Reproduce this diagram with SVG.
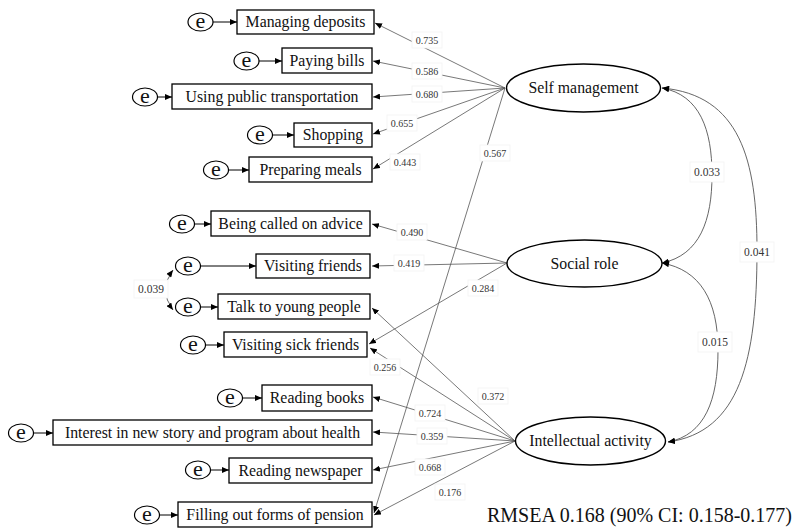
<svg xmlns="http://www.w3.org/2000/svg" width="792" height="531" viewBox="0 0 792 531" font-family="Liberation Serif, Times New Roman, serif">
<style>
.box{fill:#fff;stroke:#000;stroke-width:1.3}
.err{fill:#fff;stroke:#000;stroke-width:1.2}
.lat{fill:#fff;stroke:#000;stroke-width:1.4}
.t{font-size:15.8px;fill:#111;text-anchor:middle}
.e{font-size:22px;fill:#111;text-anchor:middle}
.ea{stroke:#000;stroke-width:1;fill:none;marker-end:url(#ah)}
.ld{stroke:#555;stroke-width:0.8;fill:none;marker-end:url(#ah)}
.cv{stroke:#555;stroke-width:0.9;fill:none;marker-start:url(#ahs);marker-end:url(#ah)}
.lb{fill:#fff;stroke:#f2f2f2;stroke-width:0.8}
.n{font-size:10px;fill:#333;text-anchor:middle}
.nb{font-size:11.5px;fill:#333;text-anchor:middle}
</style>
<defs>
<marker id="ah" markerUnits="userSpaceOnUse" markerWidth="8" markerHeight="6" refX="7" refY="3" orient="auto"><path d="M0,0 L7,3 L0,6 z" fill="#000"/></marker>
<marker id="ahs" markerUnits="userSpaceOnUse" markerWidth="8" markerHeight="6" refX="0" refY="3" orient="auto"><path d="M7,0 L0,3 L7,6 z" fill="#000"/></marker>
</defs>

<g id="connectors">
<line class="ld" x1="505" y1="88" x2="375" y2="23"/>
<line class="ld" x1="505" y1="88" x2="373" y2="61"/>
<line class="ld" x1="505" y1="88" x2="373" y2="97"/>
<line class="ld" x1="505" y1="88" x2="373" y2="134"/>
<line class="ld" x1="505" y1="88" x2="373" y2="169"/>
<line class="ld" x1="505" y1="88" x2="374" y2="513"/>
<line class="ld" x1="507" y1="263" x2="372" y2="224"/>
<line class="ld" x1="507" y1="263" x2="372" y2="266"/>
<line class="ld" x1="507" y1="263" x2="369" y2="344"/>
<line class="ld" x1="515" y1="441" x2="372" y2="308"/>
<line class="ld" x1="515" y1="441" x2="370" y2="348"/>
<line class="ld" x1="515" y1="441" x2="373" y2="397"/>
<line class="ld" x1="515" y1="441" x2="373" y2="432"/>
<line class="ld" x1="515" y1="441" x2="373" y2="470"/>
<line class="ld" x1="515" y1="441" x2="374" y2="515"/>
<path class="cv" d="M662,88 C700,95 712,130 712,175 C712,220 700,255 662,263"/>
<path class="cv" d="M662,88 C740,95 757,160 757,250 C757,360 740,432 668,442"/>
<path class="cv" d="M662,263 C700,270 718,300 718,350 C718,400 705,435 668,442"/>
<path class="cv" d="M173,270 Q158,290 173,310"/>
<line class="ea" x1="213" y1="22" x2="237" y2="22"/>
<line class="ea" x1="259" y1="61" x2="282" y2="61"/>
<line class="ea" x1="157.5" y1="97" x2="172" y2="97"/>
<line class="ea" x1="272.5" y1="135" x2="294" y2="135"/>
<line class="ea" x1="228.5" y1="170" x2="249" y2="170"/>
<line class="ea" x1="194.5" y1="224" x2="211" y2="224"/>
<line class="ea" x1="200.5" y1="266" x2="256" y2="266"/>
<line class="ea" x1="200.5" y1="307" x2="218" y2="307"/>
<line class="ea" x1="205.5" y1="345" x2="224" y2="345"/>
<line class="ea" x1="242.5" y1="398" x2="262" y2="398"/>
<line class="ea" x1="33.5" y1="433" x2="53" y2="433"/>
<line class="ea" x1="210.5" y1="470" x2="229" y2="470"/>
<line class="ea" x1="159.5" y1="515" x2="178" y2="515"/>
</g>

<g id="labels">
<rect class="lb" x="412" y="32" width="30" height="16"/><text class="n" x="427" y="43.5">0.735</text>
<rect class="lb" x="412" y="63" width="30" height="16"/><text class="n" x="427" y="74.5">0.586</text>
<rect class="lb" x="412" y="86" width="30" height="16"/><text class="n" x="427" y="97.5">0.680</text>
<rect class="lb" x="387" y="115" width="30" height="16"/><text class="n" x="402" y="126.5">0.655</text>
<rect class="lb" x="390" y="154" width="30" height="16"/><text class="n" x="405" y="165.5">0.443</text>
<rect class="lb" x="480" y="145" width="30" height="16"/><text class="n" x="495" y="156.5">0.567</text>
<rect class="lb" x="397" y="224" width="30" height="16"/><text class="n" x="412" y="235.5">0.490</text>
<rect class="lb" x="394" y="255" width="30" height="16"/><text class="n" x="409" y="266.5">0.419</text>
<rect class="lb" x="468" y="280" width="30" height="16"/><text class="n" x="483" y="291.5">0.284</text>
<rect class="lb" x="370" y="359" width="30" height="16"/><text class="n" x="385" y="370.5">0.256</text>
<rect class="lb" x="478" y="388" width="30" height="16"/><text class="n" x="493" y="399.5">0.372</text>
<rect class="lb" x="415" y="405" width="30" height="16"/><text class="n" x="430" y="416.5">0.724</text>
<rect class="lb" x="417" y="428" width="30" height="16"/><text class="n" x="432" y="439.5">0.359</text>
<rect class="lb" x="415" y="459" width="30" height="16"/><text class="n" x="430" y="470.5">0.668</text>
<rect class="lb" x="435" y="484" width="30" height="16"/><text class="n" x="450" y="495.5">0.176</text>
<rect class="lb" x="690" y="162" width="34" height="20"/><text class="nb" x="707" y="176">0.033</text>
<rect class="lb" x="740" y="242" width="34" height="20"/><text class="nb" x="757" y="256">0.041</text>
<rect class="lb" x="698" y="332" width="34" height="20"/><text class="nb" x="715" y="346">0.015</text>
<rect class="lb" x="134" y="280" width="34" height="18"/><text class="nb" x="151" y="293">0.039</text>
</g>

<g id="n1"><rect class="box" x="237" y="10" width="137" height="24"/><text class="t" x="305.5" y="27">Managing deposits</text><ellipse class="err" cx="200.5" cy="22" rx="12.5" ry="9"/><text class="e" x="200.5" y="27.5">e</text></g>
<g id="n2"><rect class="box" x="282" y="48" width="90" height="25"/><text class="t" x="327" y="66">Paying bills</text><ellipse class="err" cx="246.5" cy="61" rx="12.5" ry="9"/><text class="e" x="246.5" y="66.5">e</text></g>
<g id="n3"><rect class="box" x="172" y="84" width="200" height="25"/><text class="t" x="272" y="102">Using public transportation</text><ellipse class="err" cx="145" cy="97" rx="12.5" ry="9"/><text class="e" x="145" y="102.5">e</text></g>
<g id="n4"><rect class="box" x="294" y="123" width="78" height="24"/><text class="t" x="333" y="140">Shopping</text><ellipse class="err" cx="260" cy="135" rx="12.5" ry="9"/><text class="e" x="260" y="140.5">e</text></g>
<g id="n5"><rect class="box" x="249" y="157" width="123" height="25"/><text class="t" x="310.5" y="175">Preparing meals</text><ellipse class="err" cx="216" cy="170" rx="12.5" ry="9"/><text class="e" x="216" y="175.5">e</text></g>
<g id="n6"><rect class="box" x="211" y="211" width="159" height="25"/><text class="t" x="290.5" y="229">Being called on advice</text><ellipse class="err" cx="182" cy="224" rx="12.5" ry="9"/><text class="e" x="182" y="229.5">e</text></g>
<g id="n7"><rect class="box" x="256" y="254" width="114" height="24"/><text class="t" x="313" y="271">Visiting friends</text><ellipse class="err" cx="188" cy="266" rx="12.5" ry="9"/><text class="e" x="188" y="271.5">e</text></g>
<g id="n8"><rect class="box" x="218" y="294" width="152" height="25"/><text class="t" x="294" y="312">Talk to young people</text><ellipse class="err" cx="188" cy="307" rx="12.5" ry="9"/><text class="e" x="188" y="312.5">e</text></g>
<g id="n9"><rect class="box" x="224" y="332" width="143" height="25"/><text class="t" x="295.5" y="350">Visiting sick friends</text><ellipse class="err" cx="193" cy="345" rx="12.5" ry="9"/><text class="e" x="193" y="350.5">e</text></g>
<g id="n10"><rect class="box" x="262" y="385" width="110" height="26"/><text class="t" x="317" y="403">Reading books</text><ellipse class="err" cx="230" cy="398" rx="12.5" ry="9"/><text class="e" x="230" y="403.5">e</text></g>
<g id="n11"><rect class="box" x="53" y="420" width="319" height="25"/><text class="t" x="212.5" y="438">Interest in new story and program about health</text><ellipse class="err" cx="21" cy="433" rx="12.5" ry="9"/><text class="e" x="21" y="438.5">e</text></g>
<g id="n12"><rect class="box" x="229" y="458" width="143" height="25"/><text class="t" x="300.5" y="476">Reading newspaper</text><ellipse class="err" cx="198" cy="470" rx="12.5" ry="9"/><text class="e" x="198" y="475.5">e</text></g>
<g id="n13"><rect class="box" x="178" y="502" width="194" height="25"/><text class="t" x="275" y="520">Filling out forms of pension</text><ellipse class="err" cx="147" cy="515" rx="12.5" ry="9"/><text class="e" x="147" y="520.5">e</text></g>

<g id="self"><ellipse class="lat" cx="583.5" cy="88" rx="77" ry="24"/><text class="t" x="583.5" y="93">Self management</text></g>
<g id="social"><ellipse class="lat" cx="584.5" cy="263.5" rx="77.5" ry="23.5"/><text class="t" x="584.5" y="268.5">Social role</text></g>
<g id="intel"><ellipse class="lat" cx="590.5" cy="441" rx="75" ry="24"/><text class="t" x="590.5" y="446">Intellectual activity</text></g>

<text x="487" y="522" font-size="20" fill="#111">RMSEA 0.168 (90% CI: 0.158-0.177)</text>
</svg>
